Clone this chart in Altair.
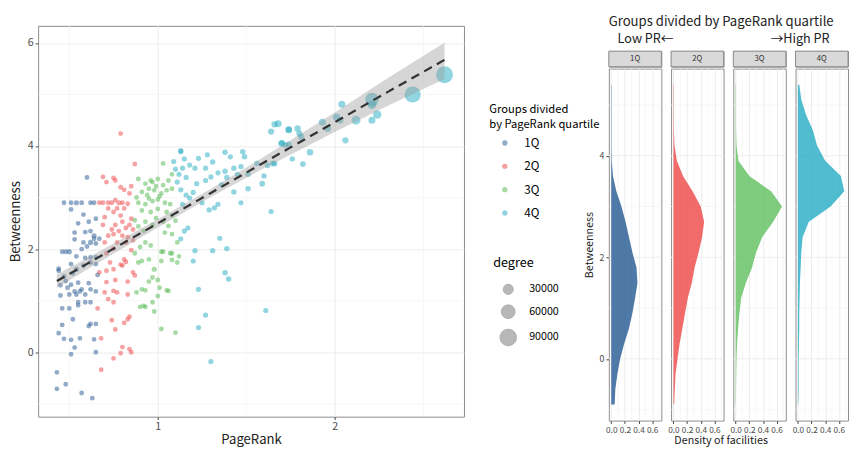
import altair as alt
import pandas as pd

FONT = "Noto Sans CJK JP"

groups = ["1Q", "2Q", "3Q", "4Q"]
scatter_colors = ["#235891", "#ef4646", "#4fb84e", "#23abc3"]
density_colors = ["#235891", "#ef4646", "#60bf5f", "#23abc3"]

# (PageRank, Betweenness, degree)
q1_points = [
    (0.47, 2.90, 3000), (0.51, 2.90, 3000), (0.54, 2.90, 4000), (0.57, 2.90, 3000), (0.62, 2.90, 3000),
    (0.64, 2.90, 3000), (0.51, 2.77, 3000), (0.60, 3.39, 3000), (0.58, 2.67, 3000), (0.61, 2.53, 3000),
    (0.65, 2.59, 3000), (0.53, 2.32, 3000), (0.59, 2.33, 3000), (0.62, 2.35, 3000), (0.64, 2.26, 4000),
    (0.53, 2.19, 3000), (0.58, 2.13, 3000), (0.62, 2.13, 4000), (0.64, 2.20, 3000), (0.65, 2.11, 3000),
    (0.46, 1.95, 3000), (0.54, 1.86, 3000), (0.51, 1.71, 3000), (0.59, 1.83, 3000), (0.62, 1.84, 3000),
    (0.65, 1.84, 3000), (0.44, 1.58, 3000), (0.54, 1.61, 4000), (0.58, 1.68, 3000), (0.62, 1.74, 3000),
    (0.65, 1.71, 3000), (0.47, 1.47, 3000), (0.52, 1.53, 3000), (0.48, 1.38, 3000), (0.51, 1.31, 3000),
    (0.55, 1.35, 3000), (0.61, 1.34, 3000), (0.57, 1.22, 3000), (0.62, 1.22, 3000), (0.50, 1.12, 3000),
    (0.53, 1.18, 3000), (0.54, 1.12, 3000), (0.56, 1.18, 3000), (0.59, 1.12, 3000), (0.65, 1.18, 3000),
    (0.55, 0.97, 3000), (0.59, 0.97, 3000), (0.62, 0.97, 3000), (0.46, 0.85, 3000), (0.50, 0.85, 3000),
    (0.55, 0.91, 3000), (0.52, 0.64, 3000), (0.46, 0.53, 3000), (0.61, 0.51, 3000), (0.62, 0.55, 3000),
    (0.65, 0.55, 3000), (0.44, 0.37, 3000), (0.56, 0.27, 3000), (0.47, 0.26, 3000), (0.51, 0.24, 3000),
    (0.64, 0.25, 3000), (0.53, 0.09, 3000), (0.51, -0.04, 3000), (0.65, 0.00, 3000), (0.43, -0.39, 3000),
    (0.48, -0.62, 3000), (0.43, -0.71, 3000), (0.57, -0.79, 3000), (0.63, -0.89, 3000), (0.50, 1.95, 4000),
    (0.48, 1.95, 3000), (0.44, 1.62, 3000), (0.45, 1.30, 3000), (0.45, 1.10, 3000), (0.57, 2.00, 3000),
    (0.60, 2.05, 3000), (0.55, 2.50, 3000), (0.67, 2.20, 3000), (0.66, 1.50, 3000), (0.49, 1.25, 3000),
]

q2_points = [
    (0.79, 4.24, 3000), (0.87, 3.65, 3000), (0.69, 3.40, 3000), (0.75, 3.38, 3000), (0.76, 3.33, 3000),
    (0.71, 3.30, 3000), (0.79, 3.20, 3000), (0.81, 3.15, 3000), (0.85, 3.22, 3000), (0.84, 3.08, 3000),
    (0.67, 2.90, 3000), (0.69, 2.90, 3000), (0.72, 2.90, 3000), (0.74, 2.90, 3000), (0.78, 2.90, 4000),
    (0.80, 2.90, 3000), (0.83, 2.88, 3000), (0.76, 2.95, 3000), (0.72, 2.79, 3000), (0.77, 2.79, 3000),
    (0.81, 2.79, 3000), (0.70, 2.62, 3000), (0.75, 2.72, 3000), (0.79, 2.65, 3000), (0.85, 2.59, 3000),
    (0.69, 2.47, 3000), (0.76, 2.47, 3000), (0.80, 2.53, 3000), (0.84, 2.47, 3000), (0.74, 2.38, 3000),
    (0.78, 2.35, 3000), (0.82, 2.41, 3000), (0.86, 2.38, 3000), (0.72, 2.26, 3000), (0.75, 2.29, 3000),
    (0.80, 2.26, 3000), (0.83, 2.23, 3000), (0.70, 2.13, 3000), (0.77, 2.13, 3000), (0.82, 2.13, 3000),
    (0.86, 2.17, 3000), (0.75, 2.01, 3000), (0.85, 1.98, 3000), (0.71, 1.92, 3000), (0.81, 1.80, 3000),
    (0.73, 1.74, 3000), (0.80, 1.68, 3000), (0.67, 1.55, 3000), (0.71, 1.58, 3000), (0.75, 1.61, 3000),
    (0.79, 1.70, 3000), (0.82, 1.75, 3000), (0.86, 1.55, 3000), (0.87, 1.49, 3000), (0.71, 1.36, 3000),
    (0.76, 1.40, 3000), (0.83, 1.37, 3000), (0.70, 1.16, 3000), (0.75, 1.19, 3000), (0.77, 1.16, 3000),
    (0.72, 1.03, 3000), (0.75, 0.97, 3000), (0.83, 1.12, 3000), (0.66, 0.85, 3000), (0.74, 0.62, 3000),
    (0.83, 0.64, 3000), (0.84, 0.69, 3000), (0.81, 0.57, 3000), (0.76, 0.44, 3000), (0.68, 0.27, 3000),
    (0.80, 0.10, 3000), (0.84, 0.06, 3000), (0.85, 0.00, 3000), (0.79, -0.02, 3000), (0.75, -0.12, 3000),
    (0.68, -0.34, 3000),
]

q3_points = [
    (1.03, 3.66, 3000), (0.89, 3.36, 3000), (0.93, 3.27, 3000), (0.96, 3.33, 3000), (0.97, 3.30, 3000),
    (1.00, 3.36, 3000), (1.03, 3.24, 3000), (1.06, 3.33, 3000), (1.08, 3.45, 3000), (0.91, 3.11, 3000),
    (0.95, 3.17, 3000), (0.98, 3.14, 3000), (1.02, 3.08, 3000), (1.05, 3.14, 3000), (1.08, 3.17, 3000),
    (0.89, 2.90, 3000), (0.93, 2.87, 3000), (0.97, 2.93, 3000), (1.00, 2.96, 3000), (1.04, 2.90, 3000),
    (1.07, 2.87, 3000), (0.91, 2.75, 3000), (0.96, 2.72, 3000), (1.00, 2.78, 3000), (1.05, 2.72, 3000),
    (1.08, 2.65, 3000), (0.87, 2.56, 3000), (0.93, 2.53, 3000), (0.97, 2.47, 3000), (1.03, 2.53, 3000),
    (0.89, 2.44, 3000), (0.93, 2.13, 3000), (0.90, 2.04, 3000), (0.96, 2.07, 3000), (0.87, 1.92, 3000),
    (1.03, 1.95, 3000), (1.08, 1.92, 3000), (0.95, 1.80, 3000), (1.02, 1.77, 3000), (0.89, 1.74, 3000),
    (0.91, 1.77, 3000), (0.98, 1.61, 4000), (0.95, 1.37, 3000), (0.97, 1.45, 3000), (1.00, 1.40, 3000),
    (0.88, 1.16, 3000), (0.91, 1.22, 3000), (0.93, 1.20, 3000), (1.00, 1.09, 3000), (1.06, 1.19, 3000),
    (0.90, 0.88, 3000), (0.93, 0.88, 3000), (0.97, 0.97, 3000), (1.02, 0.45, 3000), (1.10, 0.38, 3000),
    (0.98, 0.79, 3000), (1.01, 1.25, 3000), (1.05, 1.20, 3000), (1.11, 1.74, 3000), (1.08, 1.79, 3000),
    (1.12, 1.86, 3000), (1.11, 2.13, 3000), (1.08, 2.29, 3000), (1.04, 2.32, 3000), (1.02, 1.95, 3000),
    (1.07, 1.92, 3000), (0.92, 0.90, 3000), (0.94, 3.05, 3000), (0.99, 3.22, 3000), (1.01, 3.02, 3000),
    (0.95, 2.98, 3000), (0.99, 2.60, 3000), (0.92, 2.35, 3000), (1.06, 2.45, 3000), (1.10, 2.55, 3000),
    (0.88, 3.00, 3000),
]

q4_points = [
    (1.13, 3.91, 4000), (1.23, 3.76, 4000), (1.28, 3.83, 4000), (1.38, 3.88, 5000), (1.48, 3.89, 5000),
    (1.49, 3.79, 5000), (1.41, 3.79, 4000), (1.14, 3.57, 4000), (1.18, 3.63, 4000), (1.21, 3.57, 4000),
    (1.27, 3.57, 4000), (1.31, 3.69, 5000), (1.34, 3.48, 4000), (1.38, 3.51, 5000), (1.43, 3.57, 5000),
    (1.47, 3.60, 5000), (1.56, 3.66, 5000), (1.62, 3.62, 5000), (1.65, 3.66, 6000), (1.70, 4.06, 7000),
    (1.74, 4.03, 7000), (1.64, 4.28, 8000), (1.74, 4.31, 9000), (1.16, 3.39, 4000), (1.22, 3.27, 4000),
    (1.27, 3.33, 4000), (1.30, 3.40, 4000), (1.39, 3.39, 5000), (1.45, 3.45, 5000), (1.51, 3.45, 5000),
    (1.60, 3.42, 5000), (1.59, 3.27, 6000), (1.51, 3.17, 5000), (1.43, 3.11, 5000), (1.36, 3.25, 4000),
    (1.16, 3.05, 4000), (1.20, 3.10, 4000), (1.18, 2.99, 4000), (1.25, 2.90, 4000), (1.34, 2.87, 4000),
    (1.29, 2.76, 4000), (1.32, 2.80, 4000), (1.14, 2.87, 4000), (1.47, 2.90, 4000), (1.64, 2.73, 4000),
    (1.17, 2.41, 4000), (1.15, 2.35, 4000), (1.13, 2.20, 4000), (1.35, 2.21, 4000), (1.39, 2.01, 5000),
    (1.31, 1.97, 4000), (1.21, 1.97, 4000), (1.20, 1.77, 4000), (1.38, 1.54, 5000), (1.40, 1.42, 5000),
    (1.23, 1.22, 4000), (1.27, 0.72, 4000), (1.23, 0.48, 4000), (1.61, 0.81, 4000), (1.30, -0.18, 4000),
    (1.68, 4.43, 12000), (1.74, 4.32, 10000), (1.79, 4.34, 9000), (1.81, 4.18, 8000), (1.80, 4.24, 8000),
    (1.70, 4.05, 9000), (1.72, 4.02, 6000), (1.86, 3.88, 9000), (1.76, 3.75, 5000), (1.82, 3.65, 6000),
    (1.66, 3.66, 6000), (1.93, 4.46, 12000), (1.96, 4.34, 12000), (2.01, 4.56, 14000), (2.04, 4.81, 12000),
    (2.03, 4.50, 10000), (2.12, 4.50, 22000), (2.06, 4.11, 8000), (2.21, 4.90, 60000), (2.21, 4.80, 20000),
    (2.24, 4.61, 18000), (2.21, 4.50, 12000), (2.44, 5.00, 85000), (2.62, 5.38, 95000), (1.66, 4.42, 9000),
    (1.13, 3.89, 4000), (1.10, 3.55, 4000), (1.12, 3.45, 4000), (1.09, 3.70, 4000), (1.15, 3.75, 4000),
    (1.11, 3.30, 4000), (1.13, 3.15, 4000),
]

# Regression fit (line and confidence band)
fit_x = [0.43, 0.70, 1.00, 1.30, 1.60, 2.00, 2.30, 2.62]
fit_y = [1.38, 1.91, 2.50, 3.09, 3.68, 4.46, 5.05, 5.67]
fit_lo = [1.25, 1.81, 2.42, 3.01, 3.57, 4.27, 4.78, 5.30]
fit_hi = [1.51, 2.01, 2.58, 3.17, 3.79, 4.65, 5.32, 6.00]

# Density of Betweenness per group
dens_y = [-0.9, -0.6, -0.3, 0.0, 0.3, 0.6, 0.9, 1.2, 1.5, 1.8, 2.1,
          2.4, 2.7, 3.0, 3.3, 3.6, 3.9, 4.2, 4.5, 4.8, 5.1, 5.4]
dens_1q = [0.05, 0.06, 0.09, 0.13, 0.19, 0.26, 0.31, 0.35, 0.385, 0.37, 0.31,
           0.26, 0.21, 0.15, 0.075, 0.025, 0.008, 0.005, 0.005, 0.005, 0.005, 0.005]
dens_2q = [0.01, 0.02, 0.03, 0.06, 0.09, 0.13, 0.17, 0.21, 0.27, 0.31, 0.37,
           0.42, 0.45, 0.40, 0.28, 0.14, 0.05, 0.015, 0.007, 0.005, 0.005, 0.005]
dens_3q = [0.004, 0.005, 0.008, 0.012, 0.02, 0.035, 0.055, 0.08, 0.15, 0.24, 0.30,
           0.39, 0.55, 0.68, 0.52, 0.20, 0.04, 0.012, 0.006, 0.005, 0.005, 0.005]
dens_4q = [0.005, 0.01, 0.01, 0.01, 0.015, 0.02, 0.02, 0.025, 0.03, 0.04, 0.05,
           0.07, 0.16, 0.48, 0.68, 0.63, 0.40, 0.28, 0.22, 0.12, 0.05, 0.02]
densities = [dens_1q, dens_2q, dens_3q, dens_4q]

major_x_left = [1, 2]
minor_x_left = [0.5, 1.5, 2.5]
major_y = [0, 2, 4, 6]
minor_y = [-1, 1, 3, 5]
dens_major_x = [0, 0.2, 0.4, 0.6]
dens_minor_x = [0.1, 0.3, 0.5, 0.7]
dens_major_y = [0, 2, 4]
size_legend_values = [30000, 60000, 90000]

right_title = "Groups divided by PageRank quartile"
low_label = "Low PR←"
high_label = "→High PR"
dens_xtitle = "Density of facilities"

NOSTROKE = alt.ViewBackground(stroke="transparent")

# ---------------- left scatter ----------------
rows = []
for g, pts in zip(groups, [q1_points, q2_points, q3_points, q4_points]):
    for pr, bt, dg in pts:
        rows.append({"PageRank": pr, "Betweenness": bt, "degree": dg, "group": g})
scatter_df = pd.DataFrame(rows)
fit_df = pd.DataFrame({"x": fit_x, "y": fit_y, "lo": fit_lo, "hi": fit_hi})

xs_left = alt.Scale(domain=[0.324, 2.73], nice=False, zero=False)
ys_left = alt.Scale(domain=[-1.25, 6.33], nice=False, zero=False)
x_axis_left = alt.Axis(values=major_x_left, title="PageRank", grid=True, gridColor="#ebebeb",
                       labelFontSize=11, titleFontSize=13.5, titlePadding=2, labelPadding=1,
                       tickSize=3)
y_axis_left = alt.Axis(values=major_y, title="Betweenness", grid=True, gridColor="#ebebeb",
                       labelFontSize=11, titleFontSize=13.5, titlePadding=5, labelPadding=2,
                       tickSize=3)

minor_xr = alt.Chart(pd.DataFrame({"v": minor_x_left})).mark_rule(
    color="#f3f3f3", strokeWidth=0.7).encode(x=alt.X("v:Q", scale=xs_left, axis=x_axis_left))
minor_yr = alt.Chart(pd.DataFrame({"v": minor_y})).mark_rule(
    color="#f3f3f3", strokeWidth=0.7).encode(y=alt.Y("v:Q", scale=ys_left, axis=y_axis_left))

points = alt.Chart(scatter_df).mark_circle(opacity=0.5).encode(
    x=alt.X("PageRank:Q", scale=xs_left, axis=x_axis_left),
    y=alt.Y("Betweenness:Q", scale=ys_left, axis=y_axis_left),
    color=alt.Color("group:N", scale=alt.Scale(domain=groups, range=scatter_colors),
                    legend=alt.Legend(title=["Groups divided", "by PageRank quartile"],
                                      orient="none", legendX=464, legendY=92,
                                      symbolType="circle", symbolSize=30, symbolOpacity=0.5,
                                      symbolOffset=10, labelOffset=14, rowPadding=12,
                                      titleFontSize=11.5, titleLineHeight=15,
                                      titleFontWeight="normal",
                                      titlePadding=7, labelFontSize=12, padding=0)),
    size=alt.Size("degree:Q", scale=alt.Scale(domain=[0, 100000], range=[16, 320]),
                  legend=alt.Legend(title="degree", orient="none", legendX=468, legendY=249,
                                    values=size_legend_values, format="d",
                                    symbolFillColor="#999999", symbolStrokeColor="#8c8c8c",
                                    symbolStrokeWidth=1, symbolOpacity=0.7, symbolOffset=6,
                                    labelOffset=12, rowPadding=5, titleFontSize=13,
                                    titleFontWeight="normal", titlePadding=14,
                                    labelFontSize=11, padding=0)),
)

band = alt.Chart(fit_df).mark_area(color="#999999", opacity=0.4).encode(
    x=alt.X("x:Q", scale=xs_left, axis=x_axis_left),
    y=alt.Y("lo:Q", scale=ys_left, axis=y_axis_left),
    y2="hi:Q",
)
line = alt.Chart(fit_df).mark_line(color="#333333", strokeWidth=2.3, strokeDash=[9, 6]).encode(
    x=alt.X("x:Q", scale=xs_left, axis=x_axis_left),
    y=alt.Y("y:Q", scale=ys_left, axis=y_axis_left),
)

left_plot = alt.layer(minor_xr, minor_yr, points, band, line).properties(width=438, height=402)
spacer = alt.Chart(pd.DataFrame({"v": [0]})).mark_rule(opacity=0).encode(
    x=alt.value(0)
).properties(width=438, height=9, view=NOSTROKE)
left = alt.vconcat(spacer, left_plot, spacing=0)

# ---------------- right density panels ----------------
PW, PH, SH, GAP = 54, 362, 16, 5
TOTAL_W = 4 * PW + 3 * GAP
xs_d = alt.Scale(domain=[-0.035, 0.735], nice=False, zero=False)
ys_d = alt.Scale(domain=[-1.215, 5.715], nice=False, zero=False)


def panel(i):
    g = groups[i]
    first = i == 0
    x_ax = alt.Axis(values=dens_major_x, format=".1f", title=None, grid=True, gridColor="#ebebeb",
                    labelFontSize=8.5, labelOverlap=False, labelFlush=False, labelPadding=2,
                    tickSize=3)
    if first:
        y_ax = alt.Axis(values=dens_major_y, title="Betweenness", grid=False,
                        labelFontSize=9, titleFontSize=11, titlePadding=5, tickSize=3)
    else:
        y_ax = None
    mx = alt.Chart(pd.DataFrame({"v": dens_minor_x})).mark_rule(
        color="#f3f3f3", strokeWidth=0.7).encode(x=alt.X("v:Q", scale=xs_d, axis=x_ax))
    my = alt.Chart(pd.DataFrame({"v": minor_y})).mark_rule(
        color="#f3f3f3", strokeWidth=0.7).encode(y=alt.Y("v:Q", scale=ys_d, axis=y_ax))
    gy = alt.Chart(pd.DataFrame({"v": dens_major_y})).mark_rule(
        color="#ebebeb", strokeWidth=1).encode(y=alt.Y("v:Q", scale=ys_d, axis=y_ax))
    ddf = pd.DataFrame({"Betweenness": dens_y, "density": densities[i]})
    area = alt.Chart(ddf).mark_area(orient="horizontal", color=density_colors[i], opacity=0.8).encode(
        x=alt.X("density:Q", scale=xs_d, axis=x_ax, stack=None),
        y=alt.Y("Betweenness:Q", scale=ys_d, axis=y_ax),
    )
    dens = alt.layer(mx, my, gy, area).properties(width=PW, height=PH)

    sdf = pd.DataFrame({"g": [g]})
    strip = alt.layer(
        alt.Chart(sdf).mark_rect(fill="#d9d9d9", stroke="#8a8a8a", strokeWidth=1).encode(
            x=alt.value(0), x2=alt.value(PW), y=alt.value(0), y2=alt.value(SH)),
        alt.Chart(sdf).mark_text(fontSize=8, color="#333333", font=FONT, baseline="top").encode(
            x=alt.value(PW / 2), y=alt.value(4), text="g:N"),
    ).properties(width=PW, height=SH)
    return alt.vconcat(strip, dens, spacing=0)


panels = alt.hconcat(*[panel(i) for i in range(4)], spacing=GAP)

header = alt.layer(
    alt.Chart(pd.DataFrame({"t": [right_title]})).mark_text(
        fontSize=13.5, color="#222222", align="center", baseline="top").encode(
        x=alt.value(TOTAL_W / 2), y=alt.value(0), text="t:N"),
    alt.Chart(pd.DataFrame({"t": [low_label]})).mark_text(
        fontSize=13, color="#222222", align="left", baseline="top").encode(
        x=alt.value(9), y=alt.value(19), text="t:N"),
    alt.Chart(pd.DataFrame({"t": [high_label]})).mark_text(
        fontSize=13, color="#222222", align="right", baseline="top").encode(
        x=alt.value(TOTAL_W - 4), y=alt.value(19), text="t:N"),
).properties(width=TOTAL_W, height=35, view=NOSTROKE)

footer = alt.Chart(pd.DataFrame({"t": [dens_xtitle]})).mark_text(
    fontSize=11, color="#222222", align="center", baseline="top").encode(
    x=alt.value(TOTAL_W / 2), y=alt.value(0), text="t:N"
).properties(width=TOTAL_W, height=12, view=NOSTROKE)

right = alt.vconcat(header, panels, footer, spacing=0)

chart = alt.hconcat(left, right, spacing=121).properties(padding=0).configure(
    font=FONT
).configure_view(
    stroke="#8a8a8a", strokeWidth=1
).configure_axis(
    domain=False, labelColor="#4d4d4d", tickColor="#444444", titleColor="#222222",
    titleFontWeight="normal"
)

chart.save("out.html", embed_options={"renderer": "svg", "actions": False})
